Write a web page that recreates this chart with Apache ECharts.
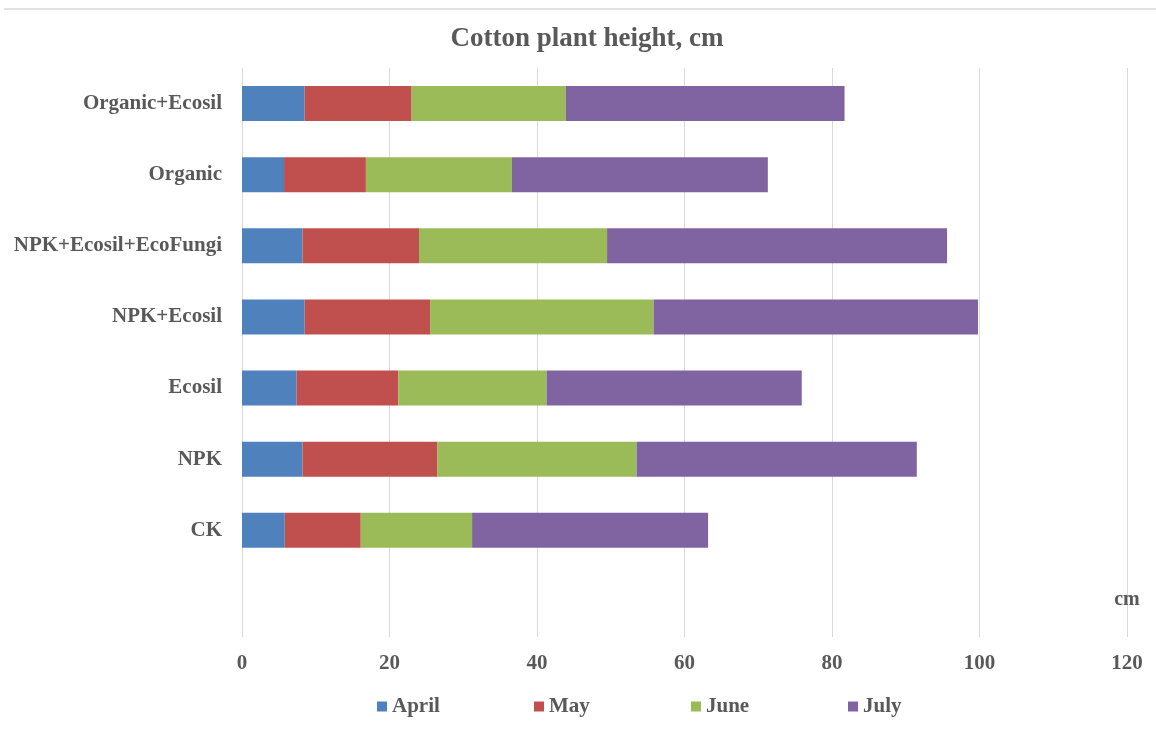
<!DOCTYPE html>
<html>
<head>
<meta charset="utf-8">
<title>Cotton plant height, cm</title>
<script src="https://cdn.jsdelivr.net/npm/echarts@6/dist/echarts.min.js"></script>
<style>
  html, body { margin: 0; padding: 0; background: #ffffff; }
  #chart { width: 1156px; height: 736px; }
</style>
</head>
<body>
<div id="chart"></div>
<script>
// Treatments, listed bottom to top as they appear on the vertical axis
const categories = ['CK', 'NPK', 'Ecosil', 'NPK+Ecosil', 'NPK+Ecosil+EcoFungi', 'Organic', 'Organic+Ecosil'];

// Monthly height growth (cm) per treatment, stacked into the total height
const april = [5.8, 8.2, 7.4, 8.5, 8.2, 5.7, 8.5];
const may   = [10.3, 18.3, 13.8, 17.0, 15.8, 11.1, 14.5];
const june  = [15.1, 27.0, 20.1, 30.3, 25.5, 19.8, 20.9];
const july  = [32.0, 38.0, 34.6, 44.0, 46.1, 34.7, 37.8];

const seriesNames = ['April', 'May', 'June', 'July'];
const xTicks = { min: 0, max: 120, interval: 20 };

const colors = ['#4F81BD', '#C0504D', '#9BBB59', '#8064A2'];
const textColor = '#595959';
const fontFamily = '"Liberation Serif", "Times New Roman", serif';

// An empty slot under CK leaves the open band above the value axis
const axisCategories = [''].concat(categories);
const withGap = arr => [null].concat(arr);

// Legend entries sit in equal-width slots along the bottom
const legendSlotLeft = 372;
const legendSlotWidth = 157;

const chart = echarts.init(document.getElementById('chart'));

chart.setOption({
  animation: false,
  backgroundColor: '#ffffff',
  color: colors,
  title: {
    text: 'Cotton plant height, cm',
    left: 582,
    top: 21,
    textAlign: 'center',
    textStyle: { fontFamily, fontWeight: 'bold', fontSize: 27, color: textColor }
  },
  graphic: [{
    type: 'line',
    shape: { x1: 4, y1: 9, x2: 1156, y2: 9 },
    style: { stroke: '#d9d9d9', lineWidth: 1.5 }
  }],
  legend: seriesNames.map((name, i) => ({
    data: [name],
    left: legendSlotLeft + i * legendSlotWidth,
    top: 691,
    itemWidth: 10,
    itemHeight: 10,
    icon: 'rect',
    textStyle: { fontFamily, fontWeight: 'bold', fontSize: 21, color: textColor }
  })),
  grid: { left: 242, right: 29, top: 68, bottom: 99, containLabel: false },
  xAxis: {
    type: 'value',
    min: xTicks.min,
    max: xTicks.max,
    interval: xTicks.interval,
    name: 'cm',
    nameLocation: 'end',
    nameGap: 0,
    nameTextStyle: {
      fontFamily, fontWeight: 'bold', fontSize: 20, color: textColor,
      align: 'center', verticalAlign: 'bottom', padding: [0, 0, 27, 0]
    },
    axisLine: { show: false },
    axisTick: { show: false },
    axisLabel: { margin: 16, fontFamily, fontWeight: 'bold', fontSize: 21, color: textColor },
    splitLine: { show: true, lineStyle: { color: '#d9d9d9', width: 1 } }
  },
  yAxis: {
    type: 'category',
    data: axisCategories,
    axisLine: { show: false },
    axisTick: { show: false },
    splitLine: { show: false },
    axisLabel: { margin: 20, fontFamily, fontWeight: 'bold', fontSize: 21, color: textColor }
  },
  series: [april, may, june, july].map((values, i) => ({
    name: seriesNames[i],
    type: 'bar',
    stack: 'height',
    barWidth: 35,
    data: withGap(values),
    itemStyle: { color: colors[i] }
  }))
});
</script>
</body>
</html>
